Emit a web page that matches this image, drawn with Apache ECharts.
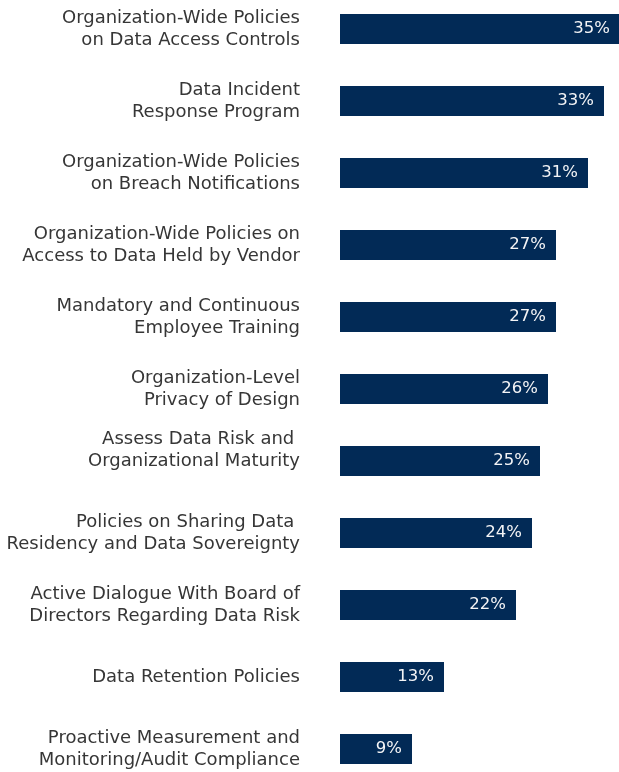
<!DOCTYPE html>
<html>
<head>
<meta charset="utf-8">
<script src="https://cdn.jsdelivr.net/npm/echarts@6/dist/echarts.min.js"></script>
<style>
  html, body { margin: 0; padding: 0; background: #ffffff; }
  #chart { width: 619px; height: 772px; }
</style>
</head>
<body>
<div id="chart"></div>
<script>
// Practices, top to bottom
const categories = [
  'Organization-Wide Policies\non Data Access Controls',
  'Data Incident\nResponse Program',
  'Organization-Wide Policies\non Breach Notifications',
  'Organization-Wide Policies on\nAccess to Data Held by Vendor',
  'Mandatory and Continuous\nEmployee Training',
  'Organization-Level\nPrivacy of Design',
  'Assess Data Risk and \nOrganizational Maturity\n',
  'Policies on Sharing Data \nResidency and Data Sovereignty',
  'Active Dialogue With Board of\nDirectors Regarding Data Risk',
  'Data Retention Policies',
  'Proactive Measurement and\nMonitoring/Audit Compliance'
];

// Share of respondents, percent
const values = [35, 33, 31, 27, 27, 26, 25, 24, 22, 13, 9];

const chart = echarts.init(document.getElementById('chart'), null, { renderer: 'canvas' });

chart.setOption({
  animation: false,
  backgroundColor: '#ffffff',
  grid: {
    left: 340, width: 280, top: -7, height: 792,
    containLabel: false,
    outerBoundsMode: 'none'
  },
  xAxis: {
    type: 'value',
    min: 0,
    max: 35,
    show: false
  },
  yAxis: {
    type: 'category',
    inverse: true,
    data: categories,
    axisLine: { show: false },
    axisTick: { show: false },
    splitLine: { show: false },
    axisLabel: {
      margin: 40,
      align: 'right',
      color: '#363636',
      fontFamily: 'DejaVu Sans',
      fontSize: 18,
      lineHeight: 22,
      padding: [3, 0, 0, 0]
    }
  },
  series: [{
    type: 'bar',
    data: values,
    barWidth: 30,
    itemStyle: { color: '#022a56' },
    label: {
      show: true,
      position: 'insideRight',
      distance: 10,
      color: '#f4f4f6',
      fontFamily: 'DejaVu Sans',
      fontSize: 16.5,
      padding: [2, 0, 0, 0],
      formatter: p => p.value + '%'
    }
  }]
});
</script>
</body>
</html>
